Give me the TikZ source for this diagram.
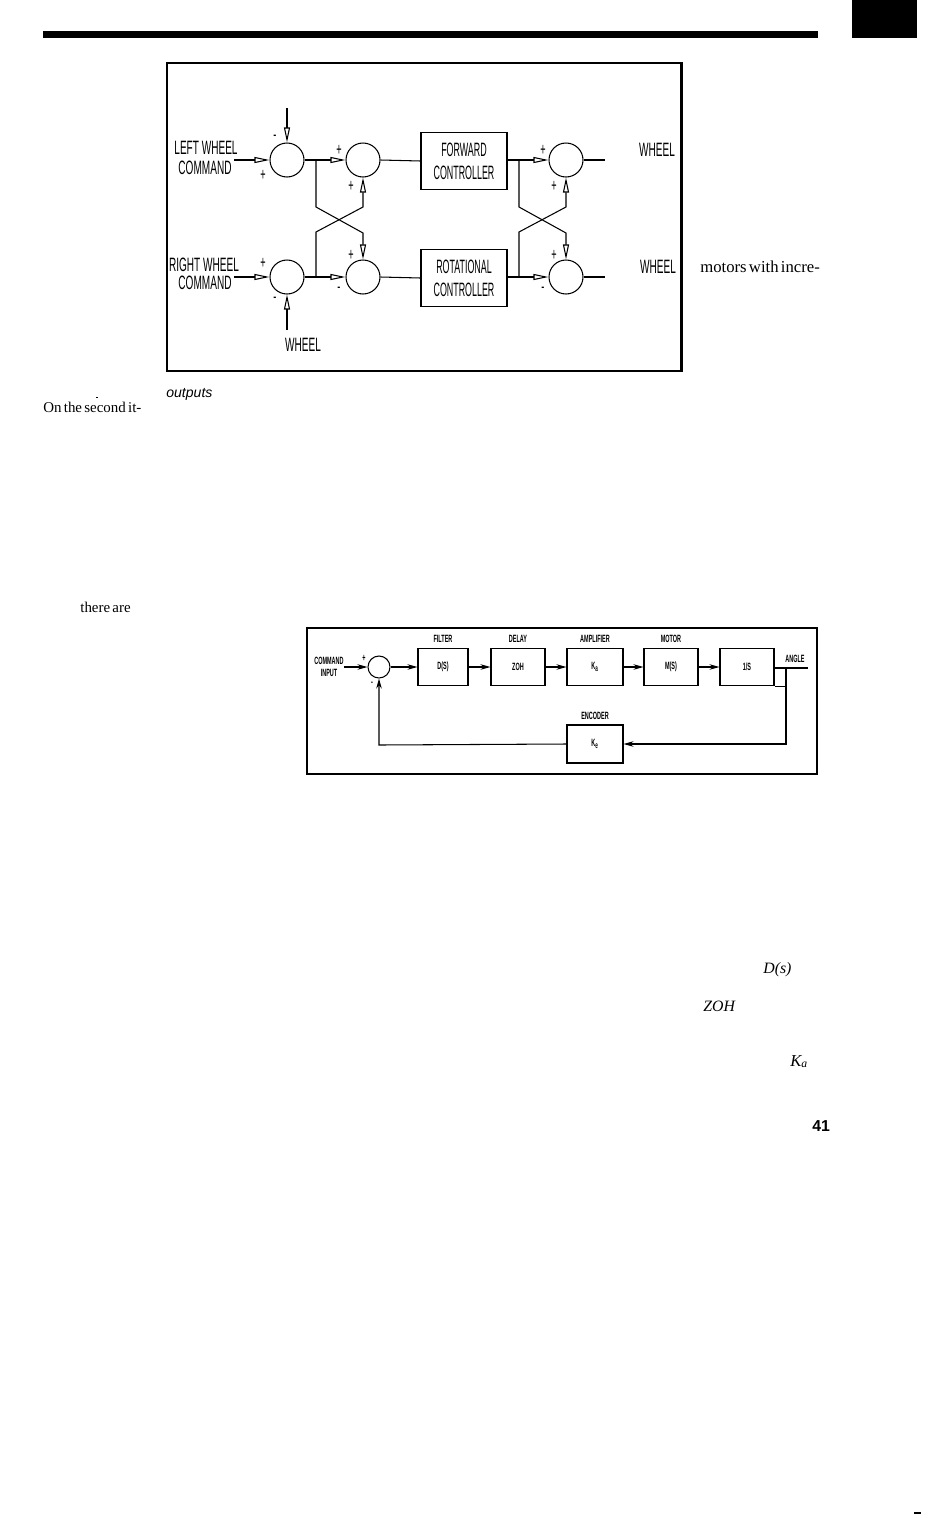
\documentclass[tikz,border=0pt]{standalone}
\usepackage{fontspec}
\setmainfont{Liberation Serif}
\newfontfamily\diagfont[FakeStretch=0.52]{Liberation Sans}
\newfontfamily\narrowfont[FakeStretch=0.46]{Liberation Sans}
\newfontfamily\pagesans{Liberation Sans}
\newcommand\tightwords{\spaceskip=1.3pt plus 0.5pt\relax}
\usetikzlibrary{positioning, arrows.meta}
\tikzset{
    sumnode/.style={draw, circle, line width=0.6pt, minimum size=0.68cm, inner sep=0pt},
    ctrlbox/.style={draw, rectangle, line width=0.6pt, minimum width=1.72cm, minimum height=1.14cm, align=center, font=\narrowfont\fontsize{11}{13}\selectfont},
    tag/.style={font=\diagfont\fontsize{11}{12}\selectfont, inner sep=0pt, align=center},
    sign/.style={font=\diagfont\fontsize{10}{11}\selectfont, inner sep=0pt},
    openarrow/.style={-{Triangle[open, length=0.3cm, width=0.12cm]}, line width=0.6pt},
    line/.style={draw, line width=0.6pt},
    smallsum/.style={draw, circle, line width=0.6pt, minimum size=0.44cm, inner sep=0pt},
    loopbox/.style={draw, rectangle, line width=0.6pt, minimum width=1.08cm, minimum height=0.74cm, font=\diagfont\bfseries\fontsize{6}{7}\selectfont},
    smalltag/.style={font=\diagfont\bfseries\fontsize{6}{6.5}\selectfont, inner sep=0pt, align=center},
    fillarrow/.style={-{Stealth[length=0.2cm, width=0.11cm]}, line width=0.6pt},
    bodytext/.style={font=\fontsize{9.5}{11}\selectfont\tightwords, inner sep=0pt, anchor=base west}
}
\begin{document}
\begin{tikzpicture}[x=0.02cm, y=-0.02cm]
    \useasboundingbox (0,0) rectangle (927,1518);

    % Page rule and corner tab
    \fill (43,31) rectangle (818,38);
    \fill (852,0) rectangle (917,38);

    % Upper figure: frame
    \draw[line width=1.7pt] (167,63) rectangle (681,371);

    % Summing junctions
    \node[sumnode] (s1) at (287,160) {};
    \node[sumnode] (s2) at (363,160) {};
    \node[sumnode] (s3) at (287,277) {};
    \node[sumnode] (s4) at (363,277) {};
    \node[sumnode] (s5) at (566,160) {};
    \node[sumnode] (s6) at (566,277) {};

    % Controllers
    \node[ctrlbox] (fwd) at (464,161) {FORWARD\\CONTROLLER};
    \node[ctrlbox] (rot) at (464,278) {ROTATIONAL\\CONTROLLER};

    % Free ends
    \coordinate (intop) at (287,108);
    \coordinate (inleft) at (234,160);
    \coordinate (inright) at (234,277);
    \coordinate (inbot) at (287,330);
    \coordinate (outtop) at (605,160);
    \coordinate (outbot) at (605,277);
    \coordinate (jl1) at (316,160);
    \coordinate (jl2) at (316,277);
    \coordinate (jr1) at (519,160);
    \coordinate (jr2) at (519,277);

    % Inputs
    \draw[openarrow] (intop) -- (s1.north);
    \draw[openarrow] (inleft) -- (s1.west);
    \draw[openarrow] (inright) -- (s3.west);
    \draw[openarrow] (inbot) -- (s3.south);

    % Forward paths
    \draw[openarrow] (s1.east) -- (s2.west);
    \draw[openarrow] (s3.east) -- (s4.west);
    \draw[line] (s2.east) -- (fwd.west);
    \draw[line] (s4.east) -- (rot.west);
    \draw[openarrow] (fwd.east |- s5.west) -- (s5.west);
    \draw[openarrow] (rot.east |- s6.west) -- (s6.west);
    \draw[line] (s5.east) -- (outtop);
    \draw[line] (s6.east) -- (outbot);

    % Cross couplings
    \draw[openarrow] (jl1) -- ++(0,47) -- (363,233) -- (s4.north);
    \draw[openarrow] (jl2) -- ++(0,-45) -- (363,207) -- (s2.south);
    \draw[openarrow] (jr1) -- ++(0,47) -- (566,233) -- (s6.north);
    \draw[openarrow] (jr2) -- ++(0,-45) -- (566,207) -- (s5.south);

    % Labels
    \node[tag] (leftw) at (206,148) {LEFT WHEEL};
    \node[tag] (leftc) at (205,168) {COMMAND};
    \node[tag] (rightw) at (204,265) {RIGHT WHEEL};
    \node[tag] (rightc) at (205,283) {COMMAND};
    \node[tag] (botwheel) at (303,345) {WHEEL};
    \node[tag] (topout) at (657,150) {WHEEL};
    \node[tag] (botout) at (658,267) {WHEEL};

    % Signs
    \node[sign] at (275,138) {-};
    \node[sign] at (263,175) {+};
    \node[sign] at (339,150) {+};
    \node[sign] at (351,186) {+};
    \node[sign] at (263,263) {+};
    \node[sign] at (275,300) {-};
    \node[sign] at (351,255) {+};
    \node[sign] at (339,290) {-};
    \node[sign] at (543,150) {+};
    \node[sign] at (554,186) {+};
    \node[sign] at (554,255) {+};
    \node[sign] at (543,290) {-};

    % Lower figure: frame
    \draw[line width=1.5pt] (307,628) rectangle (817,774);

    \node[smallsum] (cmp) at (379,667) {};
    \node[loopbox, minimum width=1.0cm] (filt) at (443,667) {D(S)};
    \node[loopbox] (dly) at (518,667) {ZOH};
    \node[loopbox, minimum width=1.12cm] (amp) at (595,667) {K\textsubscript{a}};
    \node[loopbox] (mot) at (671,667) {M(S)};
    \node[loopbox] (integ) at (747,667) {1/S};
    \node[loopbox, minimum width=1.12cm, minimum height=0.76cm] (enc) at (595,744) {K\textsubscript{e}};

    \node[smalltag, above=0.1cm of filt] {FILTER};
    \node[smalltag, above=0.1cm of dly] {DELAY};
    \node[smalltag, above=0.1cm of amp] {AMPLIFIER};
    \node[smalltag, above=0.1cm of mot] {MOTOR};
    \node[smalltag, above=0.1cm of enc] {ENCODER};
    \node[smalltag] (cmdin) at (329,667) {COMMAND\\INPUT};
    \node[smalltag] (angle) at (795,659) {ANGLE};
    \node[smalltag] at (364,658) {+};
    \node[smalltag] at (372,684) {-};

    \coordinate (angleend) at (808,668);
    \coordinate (tap) at (786,668);
    \coordinate (fbturn) at (379,745);

    \draw[fillarrow] (cmdin.east) -- (cmp.west);
    \draw[fillarrow] (cmp.east) -- (filt.west);
    \draw[fillarrow] (filt.east) -- (dly.west);
    \draw[fillarrow] (dly.east) -- (amp.west);
    \draw[fillarrow] (amp.east) -- (mot.west);
    \draw[fillarrow] (mot.east) -- (integ.west);
    \draw[line] (integ.east |- tap) -- (angleend);
    \draw[line] (integ.south east) -- (tap |- integ.south);
    \draw[fillarrow] (tap) -- (tap |- enc.east) -- (enc.east);
    \draw[fillarrow] (enc.west) -- (fbturn) -- (cmp.south);

    % Page text fragments
    \node[bodytext] at (700,272) {motors with incre-};
    \node[bodytext, font=\fontsize{8.5}{10}\selectfont\tightwords] at (43,412) {On the second it-};
    \fill (96,397) rectangle (98,398);
    \node[bodytext, font=\pagesans\itshape\fontsize{8}{9}\selectfont] at (166,397) {outputs};
    \node[bodytext, font=\fontsize{8.5}{10}\selectfont\tightwords] at (80,612) {there are};
    \node[bodytext, font=\itshape\fontsize{9}{11}\selectfont] at (763,973) {D(s)};
    \node[bodytext, font=\itshape\fontsize{9}{11}\selectfont] at (703,1011) {ZOH};
    \node[bodytext, font=\itshape\fontsize{9.5}{11}\selectfont] at (790,1066) {K\textsubscript{a}};
    \node[bodytext, font=\pagesans\bfseries\fontsize{9}{10}\selectfont] at (812,1131) {41};
    \fill (914,1512) rectangle (921,1514);
\end{tikzpicture}
\end{document}
